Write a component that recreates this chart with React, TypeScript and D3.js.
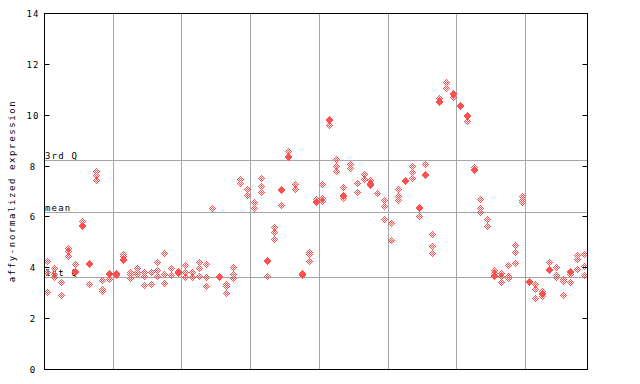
import React from "react";
import * as d3 from "d3";

// expression values per sample column (79 columns, 8 groups separated by grid lines)
const sampleValues: number[][] = [
  [4.25, 3.82, 3.02],
  [3.98, 3.72, 3.62],
  [3.43, 2.9],
  [4.75, 4.66, 4.44],
  [4.12, 3.83, 3.87],
  [5.82, 5.61, 5.65],
  [4.13, 4.17, 3.34],
  [7.8, 7.62, 7.45],
  [3.5, 3.14, 3.05],
  [3.73, 3.77, 3.53],
  [3.76, 3.72, 3.68],
  [4.52, 4.44, 4.34, 4.3],
  [3.82, 3.73, 3.56],
  [3.97, 3.82, 3.73],
  [3.82, 3.64, 3.3],
  [3.82, 3.34],
  [4.21, 3.9, 3.64],
  [4.56, 3.73, 3.37],
  [3.97, 3.68],
  [3.86, 3.82, 3.78],
  [4.08, 3.8, 3.61],
  [3.8, 3.61],
  [4.21, 3.97, 3.64],
  [4.12, 3.61, 3.26],
  [6.34],
  [3.63, 3.67],
  [3.35, 3.28, 2.98],
  [4.02, 3.74, 3.59],
  [7.48, 7.33],
  [7.08, 6.85],
  [6.57, 6.34],
  [7.51, 7.2, 6.96],
  [4.23, 4.27, 3.64],
  [5.58, 5.38, 5.11],
  [7.04, 7.08, 6.44],
  [8.59, 8.34, 8.38],
  [7.26, 7.06],
  [3.69, 3.73, 3.77],
  [4.61, 4.53, 4.25],
  [6.68, 6.62, 6.58],
  [7.27, 6.72, 6.59],
  [9.81, 9.85, 9.6],
  [8.26, 8.0, 7.79],
  [7.15, 6.83, 6.79, 6.72],
  [8.07, 7.9],
  [7.31, 6.96],
  [7.67, 7.47],
  [7.43, 7.33, 7.29, 7.23],
  [6.92],
  [6.63, 6.41, 5.9],
  [5.74, 5.07],
  [7.08, 6.81, 6.63],
  [7.4, 7.44],
  [8.0, 7.76, 7.53],
  [6.32, 6.36, 6.03],
  [8.06, 7.63, 7.67],
  [5.3, 4.83, 4.56],
  [10.66, 10.51, 10.55],
  [11.29, 11.06],
  [10.8, 10.84, 10.69],
  [10.34, 10.38],
  [9.96, 10.0, 9.75],
  [7.94, 7.86, 7.82],
  [6.68, 6.33, 6.17],
  [5.9, 5.62],
  [3.89, 3.79, 3.71, 3.67],
  [3.77, 3.67, 3.41],
  [4.08, 3.65, 3.58],
  [4.87, 4.6, 4.16],
  [6.8, 6.66, 6.55],
  [3.42, 3.46],
  [3.34, 3.14, 2.78],
  [3.06, 3.0, 2.96, 2.86],
  [4.2, 3.89, 3.93],
  [4.0, 3.69, 3.61],
  [3.53, 3.48, 2.9],
  [3.85, 3.81, 3.74, 3.41],
  [4.47, 4.32, 3.93],
  [4.52, 4.06, 3.69],
];

const groupBoundaries = [10, 20, 30, 40, 50, 60, 70];
const yTicks = [0, 2, 4, 6, 8, 10, 12, 14];
const refLabels = ["3rd Q", "mean", "1st Q"];
const refValues = [8.22, 6.21, 3.62];

const W = 640;
const H = 384;
const LEFT = 44.5;
const RIGHT = 587.5;
const TOP = 13.5;
const BOTTOM = 369.5;
const POINT = "#ff5050";
const GRID = "#a6a6a6";
const FONT = "'DejaVu Sans Mono', monospace";

export default function App() {
  const x = d3.scaleLinear().domain([0, sampleValues.length]).range([LEFT, RIGHT]);
  const y = d3.scaleLinear().domain([0, 14]).range([BOTTOM, TOP]);

  // checkered diamond markers, pixel-based
  let pathD = "";
  sampleValues.forEach((vals, i) => {
    const cx = Math.floor(x(i + 0.5));
    const seen = new Set<string>();
    vals.forEach((v) => {
      const cy = Math.round(y(v) - 0.5);
      for (let dx = -3; dx <= 3; dx++) {
        for (let dy = -3; dy <= 3; dy++) {
          const d = Math.abs(dx) + Math.abs(dy);
          if (d <= 3 && d % 2 === 1) {
            const key = `${cx + dx},${cy + dy}`;
            if (!seen.has(key)) {
              seen.add(key);
              pathD += `M${cx + dx},${cy + dy}h1v1h-1z`;
            }
          }
        }
      }
    });
  });

  return (
    <svg
      width={W}
      height={H}
      style={{ position: "absolute", left: 0, top: 0, background: "#fff" }}
    >
      {/* vertical group grid lines */}
      {groupBoundaries.map((b) => {
        const gx = Math.floor(x(b)) + 0.5;
        return (
          <line key={b} x1={gx} x2={gx} y1={TOP} y2={BOTTOM} stroke={GRID} strokeWidth={1} />
        );
      })}
      {/* quantile reference lines */}
      {refValues.map((v, k) => {
        const ry = Math.round(y(v)) + 0.5;
        return (
          <g key={k}>
            <line x1={LEFT} x2={RIGHT} y1={ry} y2={ry} stroke={GRID} strokeWidth={1} />
            <text
              x={LEFT + 0.5}
              y={ry - 1.5}
              fontFamily={FONT}
              fontSize={9}
              letterSpacing={1.2}
              fill="#000"
            >
              {refLabels[k]}
            </text>
          </g>
        );
      })}
      {/* points */}
      <path d={pathD} fill={POINT} shapeRendering="crispEdges" />
      {/* frame */}
      <rect
        x={LEFT}
        y={TOP}
        width={RIGHT - LEFT}
        height={BOTTOM - TOP}
        fill="none"
        stroke="#000"
        strokeWidth={1}
        shapeRendering="crispEdges"
      />
      {/* ticks */}
      {yTicks.map((t) => {
        const ty = Math.round(y(t) - 0.5) + 0.5;
        return (
          <g key={t}>
            <line x1={LEFT} x2={LEFT + 5} y1={ty} y2={ty} stroke="#000" />
            <line x1={RIGHT - 5} x2={RIGHT} y1={ty} y2={ty} stroke="#000" />
            <text
              x={33}
              y={ty + 3.5}
              textAnchor="middle"
              fontFamily={FONT}
              fontSize={9}
              letterSpacing={1.2}
              fill="#000"
            >
              {t}
            </text>
          </g>
        );
      })}
      <text
        transform={`translate(14.5,191) rotate(-90)`}
        textAnchor="middle"
        fontFamily={FONT}
        fontSize={9}
        letterSpacing={1.6}
        fill="#000"
      >
        affy-normalized expression
      </text>
    </svg>
  );
}
